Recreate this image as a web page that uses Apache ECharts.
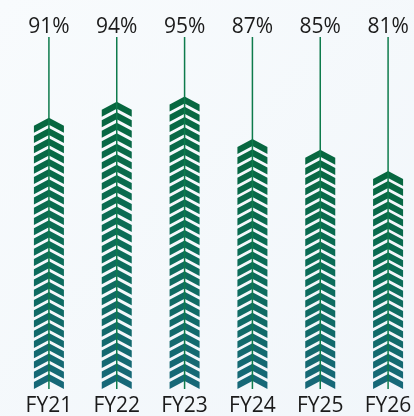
<!DOCTYPE html>
<html>
<head>
<meta charset="utf-8">
<script src="https://cdn.jsdelivr.net/npm/echarts@6/dist/echarts.min.js"></script>
<style>
  html, body { margin: 0; padding: 0; }
  body { background: linear-gradient(135deg, #f8fbfd 0%, #f1f6fa 100%); }
  #chart { width: 414px; height: 416px; }
</style>
</head>
<body>
<div id="chart"></div>
<script>
// Completion rate per fiscal year
const categories = ['FY21', 'FY22', 'FY23', 'FY24', 'FY25', 'FY26'];
const rates = [91, 94, 95, 87, 85, 81];
const axisMin = 40;
const axisMax = 106;

const FONT = '"Open Sans", "Noto Sans", sans-serif';

// One column of stacked chevrons, a thin stem running up to the label, and the label itself
function renderColumn(params, api) {
  const idx = api.value(0);
  const v = api.value(1);
  const base = api.coord([idx, axisMin]);
  const tip = api.coord([idx, v]);
  const top = api.coord([idx, axisMax]);
  const cx = tip[0];
  const halfW = 15, rise = 8, band = 7;
  const full = rise + band;
  const H = base[1] - tip[1];
  const n = Math.max(1, Math.round((H - full) / 10.3) + 1);
  const pitch = n > 1 ? (H - full) / (n - 1) : 0;
  const fill = new echarts.graphic.LinearGradient(0, tip[1], 0, base[1], [
    { offset: 0, color: '#07673f' },
    { offset: 0.5, color: '#0b6d58' },
    { offset: 1, color: '#176879' }
  ], true);
  const children = [];
  for (let i = 0; i < n; i++) {
    const y0 = tip[1] + i * pitch;
    children.push({
      type: 'polygon',
      shape: { points: [
        [cx - halfW, y0 + rise], [cx, y0], [cx + halfW, y0 + rise],
        [cx + halfW, y0 + rise + band], [cx, y0 + band], [cx - halfW, y0 + rise + band]
      ] },
      style: { fill: fill }
    });
  }
  children.push({
    type: 'line',
    shape: { x1: cx, y1: top[1] - 1, x2: cx, y2: base[1] },
    style: { stroke: '#0e7b4c', lineWidth: 1.5 }
  });
  children.push({
    type: 'text',
    style: {
      text: v + '%', x: cx, y: top[1] - 11,
      align: 'center', verticalAlign: 'middle',
      font: '21px ' + FONT, fill: '#1b1b1b'
    }
  });
  return { type: 'group', children: children };
}

const chart = echarts.init(document.getElementById('chart'));
chart.setOption({
  backgroundColor: 'transparent',
  animation: false,
  grid: { left: 15, width: 407, top: 38, bottom: 27, outerBoundsMode: 'none', containLabel: false },
  xAxis: {
    type: 'category',
    data: categories,
    axisLine: { show: false },
    axisTick: { show: false },
    axisLabel: { fontSize: 21, fontFamily: FONT, color: '#1b1b1b', margin: 7 }
  },
  yAxis: { type: 'value', min: axisMin, max: axisMax, show: false },
  series: [{
    type: 'custom',
    renderItem: renderColumn,
    data: rates.map((r, i) => [i, r])
  }]
});
</script>
</body>
</html>
